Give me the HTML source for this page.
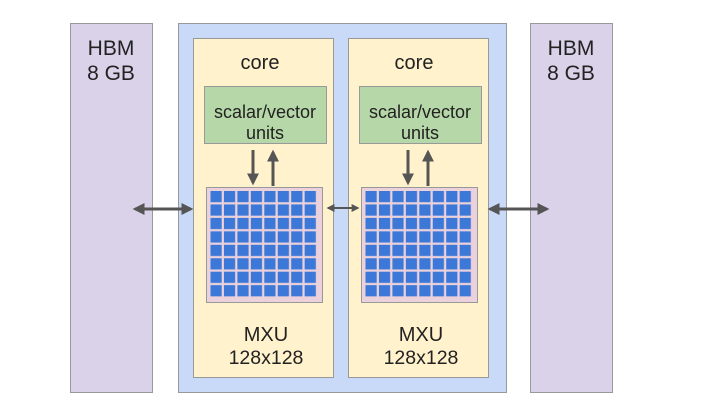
<!DOCTYPE html>
<html><head><meta charset="utf-8"><style>
html,body{margin:0;padding:0;background:#fff;}
svg{display:block;}
text{font-family:"Liberation Sans",sans-serif;fill:#222;text-anchor:middle;}
</style></head><body>
<svg width="728" height="406" viewBox="0 0 728 406" xmlns="http://www.w3.org/2000/svg">
<defs>
<pattern id="cells" x="0" y="0" width="13.45" height="13.45" patternUnits="userSpaceOnUse">
<rect x="0" y="0" width="11.2" height="11.2" fill="#3c78d8"/>
</pattern>
<marker id="ah" markerWidth="4" markerHeight="4" refX="3.2" refY="2" orient="auto-start-reverse" markerUnits="strokeWidth">
<path d="M0,0 L4,2 L0,4 Z" fill="#555"/>
</marker>
</defs>
<rect x="70.5" y="23.5" width="82" height="369" fill="#d9d2e9" stroke="#999"/>
<rect x="530.5" y="23.5" width="82" height="369" fill="#d9d2e9" stroke="#999"/>
<rect x="178.5" y="23.5" width="328" height="369" fill="#c9daf8" stroke="#999"/>
<rect x="193.5" y="38.5" width="140" height="339" fill="#fff2cc" stroke="#999"/>
<rect x="348.5" y="38.5" width="140" height="339" fill="#fff2cc" stroke="#999"/>
<rect x="204.5" y="86.5" width="122" height="57" fill="#b6d7a8" stroke="#999"/>
<rect x="359.5" y="86.5" width="122" height="57" fill="#b6d7a8" stroke="#999"/>
<rect x="206.5" y="187.5" width="116" height="115" fill="#ead1dc" stroke="#999"/>
<rect x="361.5" y="187.5" width="116" height="115" fill="#ead1dc" stroke="#999"/>
<g transform="translate(210.5,191)"><rect x="0" y="0" width="107" height="107" fill="url(#cells)"/></g>
<g transform="translate(365.5,191)"><rect x="0" y="0" width="107" height="107" fill="url(#cells)"/></g>
<text x="111" y="55" font-size="21">HBM</text>
<text x="111" y="80" font-size="21">8 GB</text>
<text x="571" y="55" font-size="21">HBM</text>
<text x="571" y="80" font-size="21">8 GB</text>
<text x="260" y="69" font-size="20">core</text>
<text x="414" y="69" font-size="20">core</text>
<text x="265" y="118" font-size="18">scalar/vector</text>
<text x="265" y="139" font-size="18">units</text>
<text x="420" y="118" font-size="18">scalar/vector</text>
<text x="420" y="139" font-size="18">units</text>
<text x="266" y="341" font-size="20">MXU</text>
<text x="266" y="364" font-size="19.5">128x128</text>
<text x="421" y="341" font-size="20">MXU</text>
<text x="421" y="364" font-size="19.5">128x128</text>
<g stroke="#555" stroke-width="3" fill="none">
<line x1="253" y1="150" x2="253" y2="183" marker-end="url(#ah)"/>
<line x1="273" y1="186" x2="273" y2="152" marker-end="url(#ah)"/>
<line x1="408" y1="150" x2="408" y2="183" marker-end="url(#ah)"/>
<line x1="428" y1="186" x2="428" y2="152" marker-end="url(#ah)"/>
<line x1="135" y1="209" x2="191" y2="209" marker-start="url(#ah)" marker-end="url(#ah)"/>
<line x1="490" y1="209" x2="547" y2="209" marker-start="url(#ah)" marker-end="url(#ah)"/>
</g>
<g stroke="#555" stroke-width="2" fill="none">
<line x1="328" y1="208" x2="358" y2="208" marker-start="url(#ah)" marker-end="url(#ah)"/>
</g>
</svg>
</body></html>
